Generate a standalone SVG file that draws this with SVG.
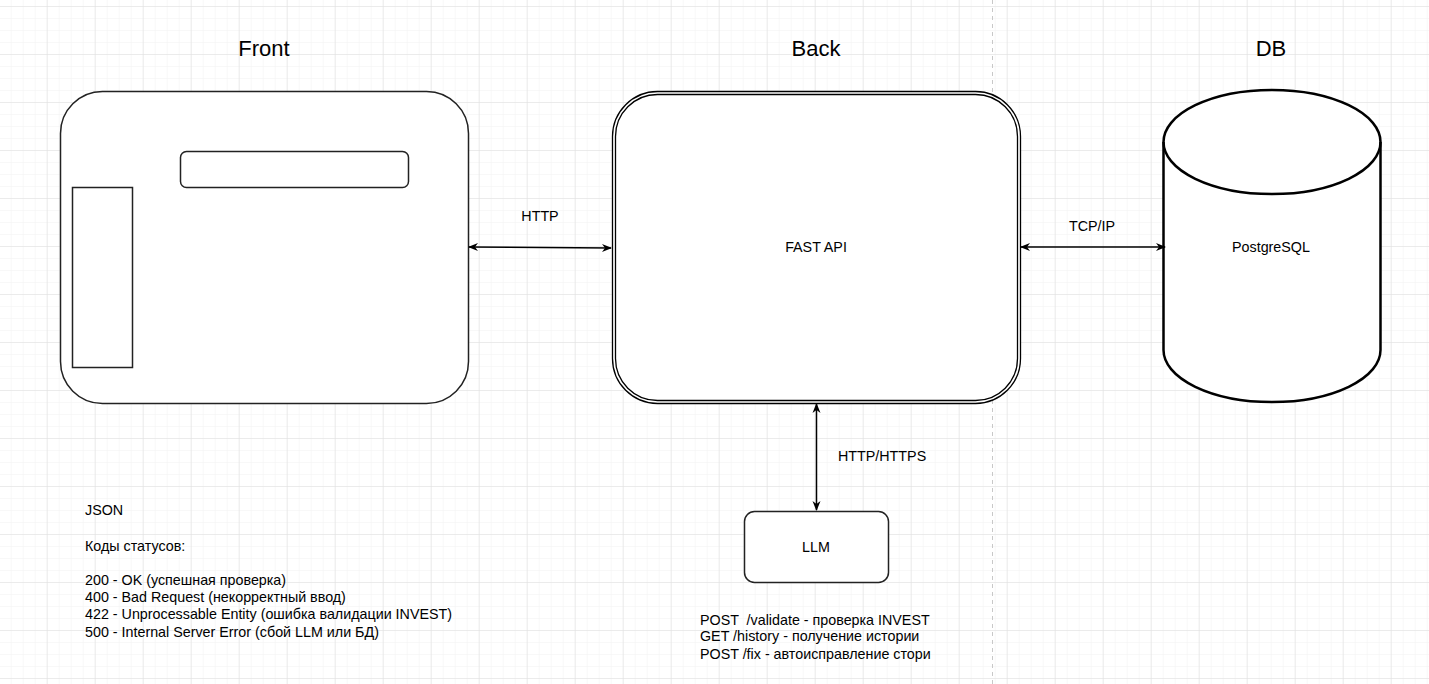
<svg xmlns="http://www.w3.org/2000/svg" width="1429" height="684" viewBox="0 0 1429 684">
<defs>
<pattern id="minor" x="10.7" y="6" width="12" height="12" patternUnits="userSpaceOnUse">
<path d="M0 0H12M0 0V12" fill="none" stroke="#f1f1f1" stroke-width="1"/>
</pattern>
<pattern id="major" x="46.7" y="6" width="48" height="48" patternUnits="userSpaceOnUse">
<path d="M0 0H48M0 0V48" fill="none" stroke="#dedede" stroke-width="1"/>
</pattern>
<marker id="arr" viewBox="0 0 10 10" refX="9" refY="5" markerWidth="10" markerHeight="10" markerUnits="userSpaceOnUse" orient="auto-start-reverse">
<path d="M0 1 L10 5 L0 9 L3 5 Z" fill="#000"/>
</marker>
</defs>
<style>
.t{font-family:"Liberation Sans",Arial,sans-serif;fill:#000}
.title{font-size:22px}
.lbl{font-size:14.3px}
.box{fill:#fff;stroke:#222;stroke-width:1.5}
.conn{stroke:#000;stroke-width:1.5;fill:none}
</style>
<rect width="1429" height="684" fill="#fff"/>
<rect width="1429" height="684" fill="url(#minor)"/>
<rect width="1429" height="684" fill="url(#major)"/>
<line x1="992.5" y1="0" x2="992.5" y2="684" stroke="#c8c8c8" stroke-width="1" stroke-dasharray="4 4"/>

<g id="titles">
<text class="t title" x="264" y="56" text-anchor="middle">Front</text>
<text class="t title" x="816" y="56" text-anchor="middle">Back</text>
<text class="t title" x="1271" y="56" text-anchor="middle">DB</text>
</g>

<g id="front">
<rect class="box" x="60.5" y="91.5" width="408" height="312" rx="42" ry="42"/>
<rect class="box" x="180.5" y="151.5" width="228" height="36" rx="6" ry="6"/>
<rect class="box" x="72.5" y="187.5" width="60" height="180"/>
</g>

<g id="back">
<rect x="612.5" y="91.5" width="408" height="312" rx="45" ry="45" fill="#fff" stroke="#000" stroke-width="1.3"/>
<rect x="615.5" y="94.5" width="402" height="306" rx="42" ry="42" fill="none" stroke="#000" stroke-width="1.3"/>
<text class="t lbl" x="816" y="252" text-anchor="middle">FAST API</text>
</g>

<g id="db">
<path d="M1163.5 142 V350 A108.5 52 0 0 0 1380.5 350 V142 A108.5 52 0 0 0 1163.5 142 Z" fill="#fff" stroke="#000" stroke-width="2.5"/>
<path d="M1163.5 142 A108.5 52 0 0 0 1380.5 142" fill="none" stroke="#000" stroke-width="2.5"/>
<text class="t lbl" x="1271" y="252" text-anchor="middle">PostgreSQL</text>
</g>

<g id="llm">
<rect class="box" x="744.5" y="511.5" width="144" height="71" rx="10" ry="10"/>
<text class="t lbl" x="816" y="552" text-anchor="middle">LLM</text>
</g>

<g id="connectors">
<line class="conn" x1="469" y1="247" x2="611" y2="248" marker-start="url(#arr)" marker-end="url(#arr)"/>
<line class="conn" x1="1021" y1="247" x2="1165" y2="247" marker-start="url(#arr)" marker-end="url(#arr)"/>
<line class="conn" x1="816.5" y1="404" x2="816.5" y2="510" marker-start="url(#arr)" marker-end="url(#arr)"/>
<text class="t lbl" x="540" y="221" text-anchor="middle">HTTP</text>
<text class="t lbl" x="1092" y="231" text-anchor="middle">TCP/IP</text>
<text class="t lbl" x="838" y="461">HTTP/HTTPS</text>
</g>

<g id="notes">
<text class="t lbl" x="85" y="515">JSON</text>
<text class="t lbl" x="85" y="551">Коды статусов:</text>
<text class="t lbl" x="85" y="585">200 - OK (успешная проверка)</text>
<text class="t lbl" x="85" y="602">400 - Bad Request (некорректный ввод)</text>
<text class="t lbl" x="85" y="619">422 - Unprocessable Entity (ошибка валидации INVEST)</text>
<text class="t lbl" x="85" y="637">500 - Internal Server Error (сбой LLM или БД)</text>
</g>

<g id="endpoints">
<text class="t lbl" x="700" y="625" xml:space="preserve">POST  /validate - проверка INVEST</text>
<text class="t lbl" x="700" y="641">GET /history - получение истории</text>
<text class="t lbl" x="700" y="659">POST /fix - автоисправление стори</text>
</g>
</svg>
